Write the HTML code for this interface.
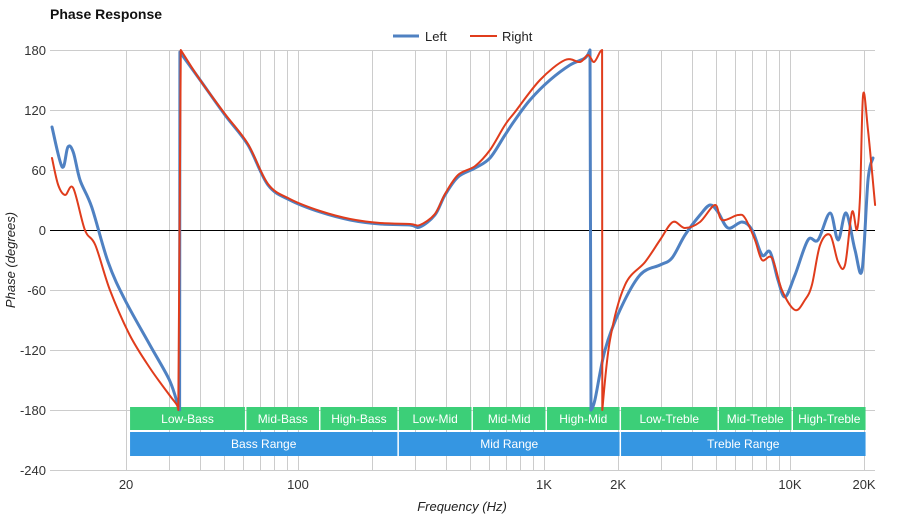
<!DOCTYPE html>
<html><head><meta charset="utf-8"><style>
body{margin:0;background:#fff;font-family:"Liberation Sans",sans-serif;}
svg text{font-family:"Liberation Sans",sans-serif;}
</style></head><body>
<svg id="chart" width="900" height="520">
<text x="50" y="19" font-size="14" font-weight="bold" fill="#111">Phase Response</text>
<g id="grid" shape-rendering="crispEdges"></g>
<g id="bands"></g>
<g id="series"></g>
<g id="axes"></g>
<g>
<g><line x1="393" y1="36" x2="419" y2="36" stroke="#4f81c2" stroke-width="3"/><text x="425" y="41" font-size="13" fill="#222">Left</text></g>
<g><line x1="470" y1="36" x2="497" y2="36" stroke="#e03c1c" stroke-width="2"/><text x="502" y="41" font-size="13" fill="#222">Right</text></g>
</g>
<text x="462" y="511" font-size="13" font-style="italic" text-anchor="middle" fill="#222">Frequency (Hz)</text>
<text transform="translate(15,260) rotate(-90)" font-size="13" font-style="italic" text-anchor="middle" fill="#222">Phase (degrees)</text>
</svg>
<script>
const yTicks=[180,120,60,0,-60,-120,-180,-240];
const xTickVals=[20,100,1000,2000,10000,20000];
const xTickLabels=["20","100","1K","2K","10K","20K"];
const leftFreq=[10,11,11.6,12.2,13,14.5,16.9,19.8,25,30,32.5,33,33.1,40,50.5,62.6,75.5,92.7,123,163,216,285,313,360,396,447,525,603,694,762,877,1058,1276,1468,1538,1553,1611,1770,2036,2455,2963,3313,3742,4306,4732,5096,5600,6383,7014,7697,8300,8938,9550,10475,11830,13000,14550,15680,16900,18370,19630,20760,21740];
const leftPhase=[103,63,83,78,50,23,-32,-70,-115,-150,-175,-180,178,150,115,85,45,30,18,10,6,5,3,15,35,53,62,72,95,110,130,150,165,172,180,-180,-170,-120,-80,-45,-35,-28,-5,15,25,18,2,8,0,-25,-22,-50,-67,-45,-10,-10,17,-10,17,-20,-40,50,72];
const rightFreq=[10,10.6,11.3,12.2,13.6,15,17.2,20.7,25,30,32.2,32.6,33.4,40,50.5,62.6,75.5,92.7,123,163,216,285,313,360,396,447,525,603,694,762,963,1217,1401,1510,1597,1689,1722,1725,1854,2134,2575,2963,3343,3742,4306,4955,5290,6148,6565,7206,7697,8450,9270,10475,11500,12280,13250,14550,15680,16740,17870,18710,19270,19820,20760,22180];
const rightPhase=[72,45,35,42,0,-15,-60,-105,-138,-165,-175,-180,180,150,116,86,46,31,19,11,7,6,5,16,36,55,64,80,105,118,150,170,168,175,168,178,180,-180,-110,-55,-32,-10,8,2,8,25,10,15,12,-10,-30,-28,-60,-80,-70,-55,-15,-5,-32,-35,18,0,35,135,100,25];
const bandNames=["Low-Bass","Mid-Bass","High-Bass","Low-Mid","Mid-Mid","High-Mid","Low-Treble","Mid-Treble","High-Treble"];
const bandEdges=[20,60,120,250,500,1000,2000,5000,10000,20000];
const rangeNames=["Bass Range","Mid Range","Treble Range"];
const rangeEdges=[20,250,2000,20000];

const NS="http://www.w3.org/2000/svg";
const X0=50,X1=875,Y0=50,Y1=470;
const fx=f=>544+246*Math.log10(f/1000);
const fy=v=>Y0+(180-v)*(Y1-Y0)/420;
function mk(tag,attrs,parent){const e=document.createElementNS(NS,tag);for(const k in attrs)e.setAttribute(k,attrs[k]);parent.appendChild(e);return e;}
const grid=document.getElementById('grid'),axes=document.getElementById('axes'),bands=document.getElementById('bands'),series=document.getElementById('series');
for(let d=10;d<=10000;d*=10){for(let m=(d===10?2:1);m<=9;m++){const f=m*d;if(f>22000)break;const x=Math.round(fx(f))+0.5;
 const l=mk('line',{x1:x,y1:Y0,x2:x,y2:Y1,stroke:'#ccc','stroke-width':1},grid);
 
 }}
yTicks.forEach(v=>{const y=Math.round(fy(v))+0.5;
 const l=mk('line',{x1:X0,y1:y,x2:X1,y2:y,stroke:v===0?'#000':'#ccc','stroke-width':1},grid);
 
 
 const t=mk('text',{x:46,y:y+4.5,'font-size':13,'text-anchor':'end',fill:'#333'},axes);t.textContent=v;
 
 });
xTickVals.forEach((f,i)=>{const t=mk('text',{x:fx(f),y:489,'font-size':13,'text-anchor':'middle',fill:'#333'},axes);t.textContent=xTickLabels[i];
 
 });
bandNames.forEach((n,i)=>{const a=fx(bandEdges[i])+(i===0?4:3),b=fx(bandEdges[i+1])+1.5;
 const r=mk('rect',{x:a,y:407,width:b-a,height:23,fill:'#3ccf78'},bands);
 
 
 const t=mk('text',{x:(a+b)/2,y:423,'font-size':12,'text-anchor':'middle',fill:'#fff'},bands);t.textContent=n;
 
 });
rangeNames.forEach((n,i)=>{const a=fx(rangeEdges[i])+(i===0?4:3),b=fx(rangeEdges[i+1])+1.5;
 const r=mk('rect',{x:a,y:432,width:b-a,height:24,fill:'#3596e2'},bands);
 
 
 const t=mk('text',{x:(a+b)/2,y:448,'font-size':12,'text-anchor':'middle',fill:'#fff'},bands);t.textContent=n;
 
 });
function draw(fr,ph,color,w,name){
 const P=fr.map((f,i)=>[fx(f),fy(ph[i])]);
 // split at wraps
 const segs=[];let cur=[P[0]];
 for(let i=1;i<P.length;i++){if(Math.abs(ph[i]-ph[i-1])>300){segs.push(cur);cur=[P[i]];}else cur.push(P[i]);}
 segs.push(cur);
 let d='';
 segs.forEach((s,si)=>{
  if(si>0){d+='L'+s[0][0].toFixed(1)+','+s[0][1].toFixed(1);}else d+='M'+s[0][0].toFixed(1)+','+s[0][1].toFixed(1);
  for(let i=0;i<s.length-1;i++){const p0=s[Math.max(0,i-1)],p1=s[i],p2=s[i+1],p3=s[Math.min(s.length-1,i+2)];
   const t=0.5/3;
   const c1=[p1[0]+(p2[0]-p0[0])*t,p1[1]+(p2[1]-p0[1])*t];
   const c2=[p2[0]-(p3[0]-p1[0])*t,p2[1]-(p3[1]-p1[1])*t];
   d+='C'+c1[0].toFixed(1)+','+c1[1].toFixed(1)+' '+c2[0].toFixed(1)+','+c2[1].toFixed(1)+' '+p2[0].toFixed(1)+','+p2[1].toFixed(1);}
 });
 const p=mk('path',{d:d,fill:'none',stroke:color,'stroke-width':w,'stroke-linejoin':'round','stroke-linecap':'round'},series);
 
 }
draw(leftFreq,leftPhase,'#4f81c2',3,'left-series');
draw(rightFreq,rightPhase,'#e03c1c',2,'right-series');
</script>
</body></html>
